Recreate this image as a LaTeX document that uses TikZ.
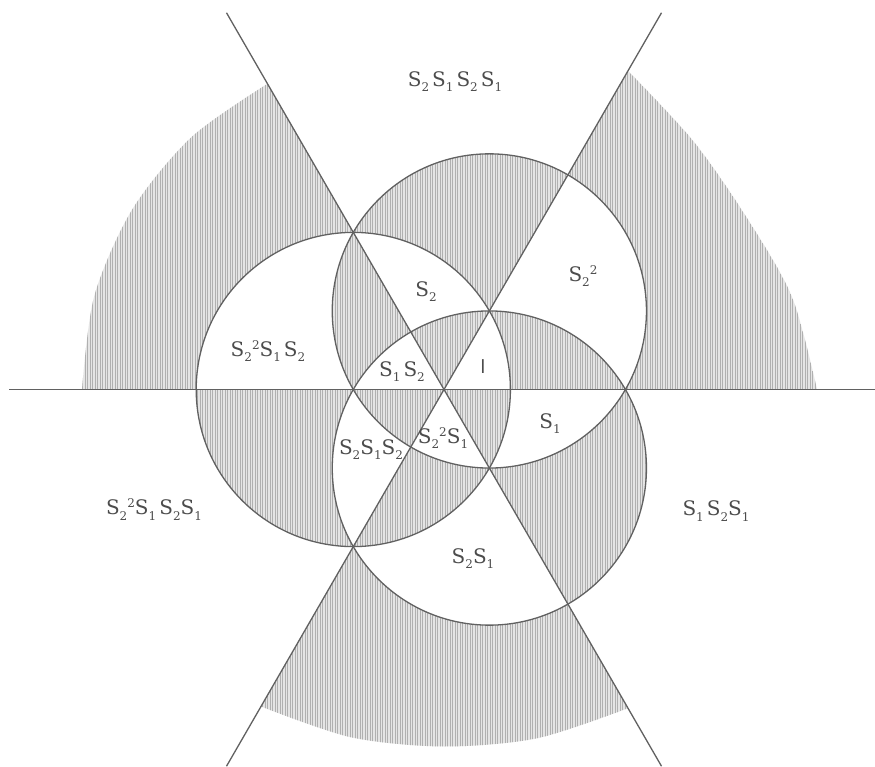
\documentclass[tikz,border=0pt]{standalone}
\usepackage{fontspec}
\setmainfont{DejaVu Serif}
\usetikzlibrary{patterns.meta}
\definecolor{ink}{gray}{0.3}
\definecolor{linec}{gray}{0.38}
\definecolor{hatch}{gray}{0.69}
\definecolor{hatchbase}{gray}{0.9}
\tikzset{
  edge/.style={draw=linec, line width=1.3pt},
  lbl/.style={text=ink, font=\fontsize{20}{24}\selectfont, inner sep=0pt, anchor=base},
  hatchbg/.style={even odd rule, fill=hatchbase},
  hatched/.style={even odd rule, pattern={Lines[angle=90,distance=2.5pt,line width=0.85pt]}, pattern color=hatch},
}
\newcommand{\Sg}[1]{S\raisebox{-5pt}{\fontsize{12}{12}\selectfont #1}}
\newcommand{\Sq}{S\raisebox{-5pt}{\fontsize{12}{12}\selectfont 2}\raisebox{7pt}{\fontsize{12}{12}\selectfont 2}}
\newcommand{\gp}{\hspace{3pt}}
\begin{document}
\begin{tikzpicture}[x=1pt,y=1pt]
\useasboundingbox (0,0) rectangle (875,766);
\fill[white] (0,0) rectangle (875,766);
\coordinate (O) at (444,376.5);
\begin{scope}[shift={(O)}]
  \def\r{90.7}
  \def\R{157.1}
  \def\L{435}
  \coordinate (A) at (180:\r);
  \coordinate (B) at (60:\r);
  \coordinate (C) at (-60:\r);
  % shading: parity of circles and alternate sectors
  \foreach \sty in {hatchbg,hatched}{
  \path[\sty] (A) circle (\R) (B) circle (\R) (C) circle (\R)
    (0,0) -- plot[smooth] coordinates {(0:373) (15:360) (30:348) (45:352) (60:368)} -- cycle
    (0,0) -- plot[smooth] coordinates {(120:353) (135:357) (150:360) (165:362) (180:362)} -- cycle
    (0,0) -- plot[smooth] coordinates {(240:366) (255:360) (270:357) (285:361) (300:368)} -- cycle;
  }
  % three lines
  \coordinate (h1) at (180:\L);
  \coordinate (h2) at (0:\L);
  \coordinate (a1) at (60:\L);
  \coordinate (a2) at (240:\L);
  \coordinate (b1) at (120:\L);
  \coordinate (b2) at (300:\L);
  \draw[edge] (h1) -- (h2);
  \draw[edge] (a1) -- (a2);
  \draw[edge] (b1) -- (b2);
  % three circles
  \draw[edge] (A) circle (\R);
  \draw[edge] (B) circle (\R);
  \draw[edge] (C) circle (\R);
\end{scope}
% labels
\node[lbl] (n1) at (455,679) {\Sg2\gp\Sg1\gp\Sg2\gp\Sg1};
\node[lbl] (n2) at (268,409) {\Sq\Sg1\gp\Sg2};
\node[lbl] (n3) at (426,469) {\Sg2};
\node[lbl] (n4) at (483,392) {\textsf{I}};
\node[lbl] (n5) at (583,484) {\Sq};
\node[lbl] (n6) at (402,389) {\Sg1\gp\Sg2};
\node[lbl] (n7) at (550,337) {\Sg1};
\node[lbl] (n8) at (443,322) {\Sq\Sg1};
\node[lbl] (n9) at (371,311) {\Sg2\Sg1\Sg2};
\node[lbl] (n10) at (154,251) {\Sq\Sg1\gp\Sg2\Sg1};
\node[lbl] (n11) at (716,250) {\Sg1\gp\Sg2\Sg1};
\node[lbl] (n12) at (473,203) {\Sg2\Sg1};
\end{tikzpicture}
\end{document}
